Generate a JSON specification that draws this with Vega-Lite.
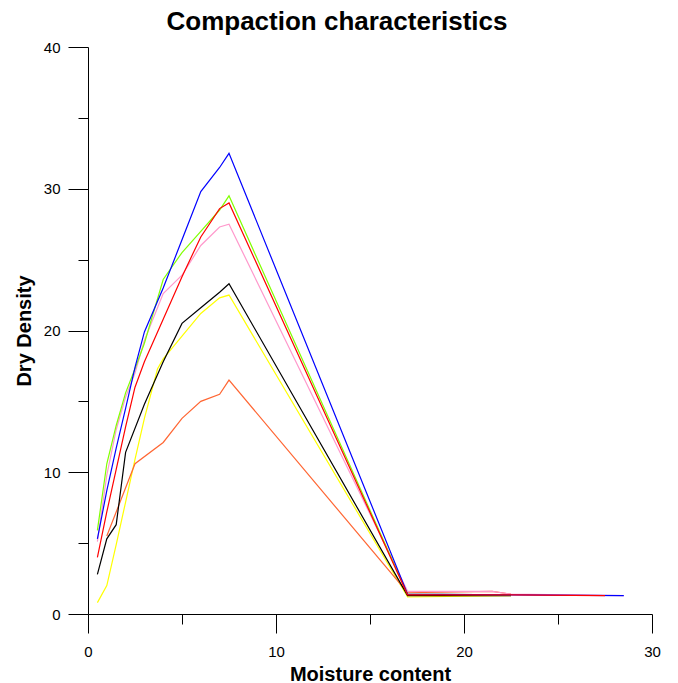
{
  "$schema": "https://vega.github.io/schema/vega-lite/v6.json",
  "width": 564,
  "height": 567,
  "autosize": {"type": "none"},
  "padding": {"left": 88, "top": 47, "right": 26, "bottom": 69},
  "background": "white",
  "config": {"view": {"stroke": null}, "font": "Liberation Sans"},
  "title": {"text": "Compaction characteristics", "fontSize": 26, "font": "Liberation Sans", "fontWeight": "bold", "anchor": "middle", "dx": -33, "offset": 5, "color": "black"},
  "data": {"values": [
    {"s": "yellow", "x": 0.5, "y": 0.8}, {"s": "yellow", "x": 1, "y": 2.0}, {"s": "yellow", "x": 1.5, "y": 4.9}, {"s": "yellow", "x": 2, "y": 7.9}, {"s": "yellow", "x": 2.5, "y": 10.9}, {"s": "yellow", "x": 3, "y": 13.8}, {"s": "yellow", "x": 3.7, "y": 17.3}, {"s": "yellow", "x": 4, "y": 18.0}, {"s": "yellow", "x": 5, "y": 19.6}, {"s": "yellow", "x": 6, "y": 21.2}, {"s": "yellow", "x": 7, "y": 22.3}, {"s": "yellow", "x": 7.5, "y": 22.5}, {"s": "yellow", "x": 17, "y": 1.2}, {"s": "yellow", "x": 22.5, "y": 1.3},
    {"s": "orange", "x": 1, "y": 5.5}, {"s": "orange", "x": 2.5, "y": 10.6}, {"s": "orange", "x": 4, "y": 12.1}, {"s": "orange", "x": 5, "y": 13.8}, {"s": "orange", "x": 6, "y": 15.0}, {"s": "orange", "x": 7, "y": 15.5}, {"s": "orange", "x": 7.5, "y": 16.5}, {"s": "orange", "x": 17, "y": 1.5}, {"s": "orange", "x": 21.5, "y": 1.6}, {"s": "orange", "x": 22.5, "y": 1.4},
    {"s": "black", "x": 0.5, "y": 2.8}, {"s": "black", "x": 1, "y": 5.3}, {"s": "black", "x": 1.5, "y": 6.3}, {"s": "black", "x": 2, "y": 11.4}, {"s": "black", "x": 3, "y": 14.8}, {"s": "black", "x": 4, "y": 17.8}, {"s": "black", "x": 5, "y": 20.5}, {"s": "black", "x": 6, "y": 21.6}, {"s": "black", "x": 7, "y": 22.7}, {"s": "black", "x": 7.5, "y": 23.3}, {"s": "black", "x": 17, "y": 1.3}, {"s": "black", "x": 22.5, "y": 1.3},
    {"s": "pink", "x": 0.5, "y": 5.1}, {"s": "pink", "x": 1, "y": 9.8}, {"s": "pink", "x": 1.5, "y": 13.0}, {"s": "pink", "x": 2, "y": 15.3}, {"s": "pink", "x": 2.5, "y": 17.0}, {"s": "pink", "x": 3, "y": 19.3}, {"s": "pink", "x": 4, "y": 22.6}, {"s": "pink", "x": 5, "y": 23.9}, {"s": "pink", "x": 6, "y": 26.0}, {"s": "pink", "x": 7, "y": 27.3}, {"s": "pink", "x": 7.5, "y": 27.5}, {"s": "pink", "x": 17, "y": 1.6}, {"s": "pink", "x": 21.5, "y": 1.6}, {"s": "pink", "x": 22.5, "y": 1.4}, {"s": "pink", "x": 28.5, "y": 1.3},
    {"s": "green", "x": 0.5, "y": 5.9}, {"s": "green", "x": 1, "y": 10.6}, {"s": "green", "x": 1.5, "y": 13.3}, {"s": "green", "x": 2, "y": 15.6}, {"s": "green", "x": 2.5, "y": 17.3}, {"s": "green", "x": 3, "y": 19.1}, {"s": "green", "x": 4, "y": 23.6}, {"s": "green", "x": 5, "y": 25.5}, {"s": "green", "x": 6, "y": 27.0}, {"s": "green", "x": 7, "y": 28.5}, {"s": "green", "x": 7.5, "y": 29.5}, {"s": "green", "x": 17, "y": 1.4}, {"s": "green", "x": 22.5, "y": 1.35},
    {"s": "blue", "x": 0.5, "y": 5.3}, {"s": "blue", "x": 1, "y": 8.7}, {"s": "blue", "x": 1.5, "y": 11.7}, {"s": "blue", "x": 2, "y": 14.5}, {"s": "blue", "x": 2.5, "y": 17.4}, {"s": "blue", "x": 3, "y": 19.9}, {"s": "blue", "x": 4, "y": 23.0}, {"s": "blue", "x": 5, "y": 26.4}, {"s": "blue", "x": 6, "y": 29.8}, {"s": "blue", "x": 7, "y": 31.5}, {"s": "blue", "x": 7.5, "y": 32.5}, {"s": "blue", "x": 17, "y": 1.4}, {"s": "blue", "x": 22.5, "y": 1.35}, {"s": "blue", "x": 28.5, "y": 1.3},
    {"s": "red", "x": 0.5, "y": 4.0}, {"s": "red", "x": 1, "y": 7.2}, {"s": "red", "x": 1.5, "y": 10.2}, {"s": "red", "x": 2, "y": 13.2}, {"s": "red", "x": 2.5, "y": 16.0}, {"s": "red", "x": 3, "y": 17.8}, {"s": "red", "x": 4, "y": 20.8}, {"s": "red", "x": 5, "y": 23.8}, {"s": "red", "x": 6, "y": 26.6}, {"s": "red", "x": 7, "y": 28.6}, {"s": "red", "x": 7.5, "y": 29.0}, {"s": "red", "x": 17, "y": 1.35}, {"s": "red", "x": 22.5, "y": 1.35}, {"s": "red", "x": 27.5, "y": 1.3}
  ]},
  "mark": {"type": "line", "strokeWidth": 1.2},
  "encoding": {
    "x": {
      "field": "x", "type": "quantitative",
      "scale": {"domain": [0, 30], "nice": false},
      "axis": {
        "title": "Moisture content", "titleFontSize": 20, "titleFontWeight": "bold", "titleColor": "black", "titleFont": "Liberation Sans",
        "values": [0, 5, 10, 15, 20, 25, 30],
        "labelExpr": "datum.value % 10 === 0 ? datum.label : ''",
        "tickSize": {"condition": {"test": "datum.value % 10 === 0", "value": 19}, "value": 10},
        "grid": false, "domainColor": "black", "tickColor": "black", "labelColor": "black",
        "labelFontSize": 15, "labelPadding": 11, "titlePadding": 5, "labelFlush": false, "labelOverlap": false
      }
    },
    "y": {
      "field": "y", "type": "quantitative",
      "scale": {"domain": [0, 40], "nice": false},
      "axis": {
        "title": "Dry Density", "titleFontSize": 20, "titleFontWeight": "bold", "titleColor": "black", "titleFont": "Liberation Sans",
        "values": [0, 5, 10, 15, 20, 25, 30, 35, 40],
        "labelExpr": "datum.value % 10 === 0 ? datum.label : ''",
        "tickSize": {"condition": {"test": "datum.value % 10 === 0", "value": 20}, "value": 10},
        "grid": false, "domainColor": "black", "tickColor": "black", "labelColor": "black",
        "labelFontSize": 15, "labelPadding": 8, "titlePadding": 9, "labelFlush": false, "labelOverlap": false
      }
    },
    "color": {
      "field": "s", "type": "nominal",
      "scale": {"domain": ["yellow", "orange", "black", "pink", "green", "blue", "red"], "range": ["#FFFF00", "#FF6633", "#000000", "#FF99CC", "#80FF00", "#0000FF", "#FF0000"]},
      "legend": null
    }
  }
}
